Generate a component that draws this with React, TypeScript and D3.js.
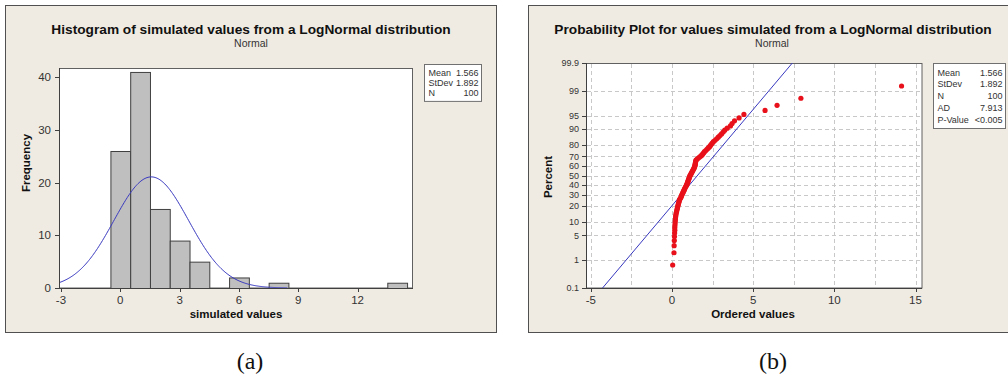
import React, { useEffect, useRef } from "react";
import * as d3 from "d3";

// 100 simulated values, sorted, read off the probability plot / histogram
const simValues = [
  0.04, 0.12, 0.13, 0.14, 0.15, 0.16, 0.17, 0.17, 0.18, 0.19,
  0.2, 0.21, 0.22, 0.23, 0.25, 0.27, 0.29, 0.31, 0.33, 0.35,
  0.37, 0.39, 0.41, 0.43, 0.45, 0.47, 0.52, 0.55, 0.58, 0.6,
  0.63, 0.66, 0.69, 0.72, 0.75, 0.77, 0.8, 0.83, 0.86, 0.9,
  0.92, 0.94, 0.96, 0.98, 1.0, 1.02, 1.04, 1.06, 1.08, 1.1,
  1.13, 1.16, 1.19, 1.22, 1.25, 1.28, 1.31, 1.34, 1.37, 1.39,
  1.41, 1.42, 1.43, 1.44, 1.45, 1.46, 1.48, 1.55, 1.62, 1.7,
  1.78, 1.85, 1.9, 1.95, 2.0, 2.08, 2.15, 2.22, 2.3, 2.36,
  2.42, 2.48, 2.55, 2.65, 2.75, 2.85, 2.95, 3.05, 3.15, 3.25,
  3.4, 3.6, 3.7, 3.85, 4.13, 4.43, 5.73, 6.47, 7.94, 14.14,
];

const statMean = 1.566;
const statSd = 1.892;
const histStats = [["Mean", "1.566"], ["StDev", "1.892"], ["N", "100"]];
const probStats = [["Mean", "1.566"], ["StDev", "1.892"], ["N", "100"], ["AD", "7.913"], ["P-Value", "<0.005"]];

const histXTicks = [-3, 0, 3, 6, 9, 12];
const histYTicks = [0, 10, 20, 30, 40];
const probXTicks = [-5, 0, 5, 10, 15];
const probXGrid = [-5, -2.5, 0, 2.5, 5, 7.5, 10, 12.5, 15];
const percentTicks = [0.1, 1, 5, 10, 20, 30, 40, 50, 60, 70, 80, 90, 95, 99, 99.9];

const FONT = "'Liberation Sans', Arial, sans-serif";
const PANEL = "#f0ebe2";

// inverse normal cdf (Acklam)
function qnorm(p: number) {
  const a = [-39.69683028665376, 220.9460984245205, -275.9285104469687, 138.357751867269, -30.66479806614716, 2.506628277459239];
  const b = [-54.47609879822406, 161.5858368580409, -155.6989798598866, 66.80131188771972, -13.28068155288572];
  const c = [-0.007784894002430293, -0.3223964580411365, -2.400758277161838, -2.549732539343734, 4.374664141464968, 2.938163982698783];
  const d = [0.007784695709041462, 0.3224671290700398, 2.445134137142996, 3.754408661907416];
  const pl = 0.02425;
  if (p < pl) {
    const q = Math.sqrt(-2 * Math.log(p));
    return (((((c[0] * q + c[1]) * q + c[2]) * q + c[3]) * q + c[4]) * q + c[5]) / ((((d[0] * q + d[1]) * q + d[2]) * q + d[3]) * q + 1);
  }
  if (p <= 1 - pl) {
    const q = p - 0.5, r = q * q;
    return (((((a[0] * r + a[1]) * r + a[2]) * r + a[3]) * r + a[4]) * r + a[5]) * q / (((((b[0] * r + b[1]) * r + b[2]) * r + b[3]) * r + b[4]) * r + 1);
  }
  const q = Math.sqrt(-2 * Math.log(1 - p));
  return -(((((c[0] * q + c[1]) * q + c[2]) * q + c[3]) * q + c[4]) * q + c[5]) / ((((d[0] * q + d[1]) * q + d[2]) * q + d[3]) * q + 1);
}

function statBox(g: any, x: number, y: number, w: number, rows: string[][], rowH: number) {
  g.append("rect").attr("x", x).attr("y", y).attr("width", w).attr("height", rows.length * rowH + 6)
    .attr("fill", "white").attr("stroke", "#707070");
  rows.forEach((r, i) => {
    const ty = y + 3 + rowH * i + rowH / 2;
    g.append("text").attr("x", x + 4).attr("y", ty).attr("dy", "0.35em")
      .attr("font-size", 9).attr("fill", "#333").text(r[0]);
    g.append("text").attr("x", x + w - 3).attr("y", ty).attr("dy", "0.35em")
      .attr("text-anchor", "end").attr("font-size", 9).attr("fill", "#333").text(r[1]);
  });
}

export default function App() {
  const ref = useRef<SVGSVGElement>(null);

  useEffect(() => {
    const svg = d3.select(ref.current);
    svg.selectAll("*").remove();
    svg.attr("font-family", FONT);

    // ---------- (a) histogram ----------
    const ga = svg.append("g");
    ga.append("rect").attr("x", 5.5).attr("y", 5.5).attr("width", 491).attr("height", 327)
      .attr("fill", PANEL).attr("stroke", "#505050");
    ga.append("text").attr("x", 251).attr("y", 34).attr("text-anchor", "middle")
      .attr("font-size", 13.7).attr("font-weight", "bold").attr("fill", "#111")
      .text("Histogram of simulated values from a LogNormal distribution");
    ga.append("text").attr("x", 251).attr("y", 47).attr("text-anchor", "middle")
      .attr("font-size", 10.5).attr("fill", "#333").text("Normal");

    const x = d3.scaleLinear().domain([-3.1, 14.8]).range([59, 413]);
    const y = d3.scaleLinear().domain([0, 41.75]).range([288, 68]);

    ga.append("rect").attr("x", 59.5).attr("y", 68.5).attr("width", 353).attr("height", 219.5)
      .attr("fill", "white").attr("stroke", "#606060");

    const bins = d3.bin().domain([-0.5, 14.5]).thresholds(d3.range(-0.5, 14.5, 1))(simValues);
    ga.selectAll("rect.bar").data(bins.filter((b) => b.length > 0)).enter().append("rect")
      .attr("class", "bar")
      .attr("x", (b: any) => x(b.x0) + 0.5)
      .attr("y", (b: any) => y(b.length) + 0.5)
      .attr("width", (b: any) => x(b.x1) - x(b.x0))
      .attr("height", (b: any) => y(0) - y(b.length))
      .attr("fill", "#bfbfbf").attr("stroke", "#404040");

    const n = simValues.length;
    const pdf = (v: number) => (n / (statSd * Math.sqrt(2 * Math.PI))) * Math.exp(-0.5 * ((v - statMean) / statSd) ** 2);
    const curveX = d3.range(-3.1, 8.5, 0.05);
    ga.append("path").datum(curveX)
      .attr("d", d3.line<number>().x((v) => x(v)).y((v) => y(pdf(v))))
      .attr("fill", "none").attr("stroke", "#3838c0").attr("stroke-width", 1);

    const axA = ga.append("g").attr("fill", "#333").attr("font-size", 11.5);
    axA.append("line").attr("x1", 59.5).attr("x2", 59.5).attr("y1", 68).attr("y2", 288).attr("stroke", "#404040");
    axA.append("line").attr("x1", 59).attr("x2", 413).attr("y1", 288.5).attr("y2", 288.5).attr("stroke", "#404040");
    histYTicks.forEach((t) => {
      axA.append("line").attr("x1", 55).attr("x2", 59).attr("y1", Math.round(y(t)) + 0.5).attr("y2", Math.round(y(t)) + 0.5).attr("stroke", "#404040");
      axA.append("text").attr("x", 51).attr("y", y(t)).attr("dy", "0.35em").attr("text-anchor", "end").text(t);
    });
    histXTicks.forEach((t) => {
      axA.append("line").attr("x1", Math.round(x(t)) + 0.5).attr("x2", Math.round(x(t)) + 0.5).attr("y1", 288).attr("y2", 292).attr("stroke", "#404040");
      axA.append("text").attr("x", x(t)).attr("y", 304).attr("text-anchor", "middle").text(t);
    });
    ga.append("text").attr("x", 236).attr("y", 318).attr("text-anchor", "middle")
      .attr("font-size", 11.5).attr("font-weight", "bold").attr("fill", "#111").text("simulated values");
    ga.append("text").attr("transform", "translate(30,163) rotate(-90)").attr("text-anchor", "middle")
      .attr("font-size", 11.5).attr("font-weight", "bold").attr("fill", "#111").text("Frequency");

    statBox(ga, 424.5, 64.5, 57, histStats, 10.3);

    // ---------- (b) probability plot ----------
    const gb = svg.append("g");
    gb.append("rect").attr("x", 528.5).attr("y", 5.5).attr("width", 490).attr("height", 327)
      .attr("fill", PANEL).attr("stroke", "#505050");
    gb.append("text").attr("x", 773).attr("y", 34).attr("text-anchor", "middle")
      .attr("font-size", 13.7).attr("font-weight", "bold").attr("fill", "#111")
      .text("Probability Plot for values simulated from a LogNormal distribution");
    gb.append("text").attr("x", 772).attr("y", 47).attr("text-anchor", "middle")
      .attr("font-size", 10.5).attr("fill", "#333").text("Normal");

    const px = d3.scaleLinear().domain([-5.3, 15.4]).range([586, 922]);
    const py = d3.scaleLinear().domain([qnorm(0.001), qnorm(0.999)]).range([288, 63]);

    gb.append("rect").attr("x", 586.5).attr("y", 63.5).attr("width", 335.5).attr("height", 224.5)
      .attr("fill", "white").attr("stroke", "#606060");

    const grid = gb.append("g").attr("stroke", "#c8c8c8").attr("stroke-dasharray", "4,3");
    probXGrid.forEach((t) => {
      grid.append("line").attr("x1", Math.round(px(t)) + 0.5).attr("x2", Math.round(px(t)) + 0.5).attr("y1", 64).attr("y2", 288);
    });
    percentTicks.slice(1, -1).forEach((t) => {
      grid.append("line").attr("x1", 587).attr("x2", 922).attr("y1", Math.round(py(qnorm(t / 100))) + 0.5).attr("y2", Math.round(py(qnorm(t / 100))) + 0.5);
    });

    // fitted normal line
    const zLo = qnorm(0.001), zHi = qnorm(0.999);
    gb.append("line")
      .attr("x1", px(statMean + statSd * zLo)).attr("y1", py(zLo))
      .attr("x2", px(statMean + statSd * zHi)).attr("y2", py(zHi))
      .attr("stroke", "#3838c0").attr("stroke-width", 1);

    gb.selectAll("circle.pt").data(simValues).enter().append("circle")
      .attr("class", "pt")
      .attr("cx", (v) => px(v))
      .attr("cy", (v, i) => py(qnorm((i + 1 - 0.3) / (n + 0.4))))
      .attr("r", 2.6).attr("fill", "#e8101a");

    const axB = gb.append("g").attr("fill", "#333");
    axB.append("line").attr("x1", 586.5).attr("x2", 586.5).attr("y1", 63).attr("y2", 288).attr("stroke", "#404040");
    axB.append("line").attr("x1", 586).attr("x2", 922).attr("y1", 288.5).attr("y2", 288.5).attr("stroke", "#404040");
    percentTicks.forEach((t) => {
      const ty = py(qnorm(t / 100));
      axB.append("line").attr("x1", 582).attr("x2", 586).attr("y1", Math.round(ty) + 0.5).attr("y2", Math.round(ty) + 0.5).attr("stroke", "#404040");
      axB.append("text").attr("x", 579).attr("y", ty).attr("dy", "0.35em").attr("text-anchor", "end")
        .attr("font-size", 9).text(t);
    });
    probXTicks.forEach((t) => {
      axB.append("line").attr("x1", Math.round(px(t)) + 0.5).attr("x2", Math.round(px(t)) + 0.5).attr("y1", 288).attr("y2", 292).attr("stroke", "#404040");
      axB.append("text").attr("x", px(t)).attr("y", 304).attr("text-anchor", "middle").attr("font-size", 11.5).text(t);
    });
    gb.append("text").attr("x", 753).attr("y", 318).attr("text-anchor", "middle")
      .attr("font-size", 11.5).attr("font-weight", "bold").attr("fill", "#111").text("Ordered values");
    gb.append("text").attr("transform", "translate(552,177) rotate(-90)").attr("text-anchor", "middle")
      .attr("font-size", 11.5).attr("font-weight", "bold").attr("fill", "#111").text("Percent");

    statBox(gb, 933.5, 63.5, 72, probStats, 11.8);

    // captions
    svg.append("text").attr("x", 250).attr("y", 369).attr("text-anchor", "middle")
      .attr("font-family", "'Liberation Serif', 'Times New Roman', serif").attr("font-size", 24).attr("fill", "#111").text("(a)");
    svg.append("text").attr("x", 773).attr("y", 369).attr("text-anchor", "middle")
      .attr("font-family", "'Liberation Serif', 'Times New Roman', serif").attr("font-size", 24).attr("fill", "#111").text("(b)");

    return () => {};
  }, []);

  return (
    <svg
      ref={ref}
      width={1008}
      height={380}
      style={{ position: "absolute", left: 0, top: 0, background: "white" }}
    />
  );
}
